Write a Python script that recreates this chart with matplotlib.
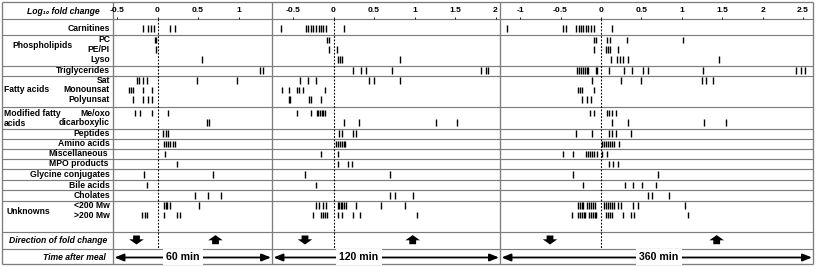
import matplotlib
matplotlib.use("Agg")
import matplotlib.pyplot as plt
from matplotlib.patches import Polygon

# ---------------- data: log10 fold change per metabolite, [60 min, 120 min, 360 min]
time_labels = ["60 min", "120 min", "360 min"]
tick_values = [[-0.5, 0, 0.5, 1],
               [-0.5, 0, 0.5, 1, 1.5, 2],
               [-1, -0.5, 0, 0.5, 1, 1.5, 2, 2.5]]
tick_labels = [["-0.5", "0", "0.5", "1"],
               ["-0.5", "0", "0.5", "1", "1.5", "2"],
               ["-1", "-0.5", "0", "0.5", "1", "1.5", "2", "2.5"]]

carnitines = [[-0.175, -0.117, -0.08, -0.043, 0.154, 0.216],
              [-0.652, -0.34, -0.309, -0.278, -0.247, -0.216, -0.185, -0.154, -0.126, -0.093, 0.13],
              [-1.167, -0.467, -0.433, -0.31, -0.278, -0.248, -0.217, -0.186, -0.155, -0.124, -0.087, 0.14]]
pc = [[-0.035, -0.02],
      [-0.075, -0.05],
      [-0.085, -0.065, 0.07, 0.11, 0.32, 1.02]]
pe_pi = [[-0.022],
         [-0.06, 0.047],
         [-0.083, 0.065, 0.09, 0.11, 0.214]]
lyso = [[0.545],
        [0.056, 0.08, 0.105, 0.82],
        [0.12, 0.194, 0.235, 0.276, 0.338, 1.464]]
triglycerides = [[1.27, 1.30],
                 [0.237, 0.336, 0.40, 0.726, 1.82, 1.88, 1.905],
                 [-0.297, -0.272, -0.248, -0.223, -0.198, -0.173, -0.155, -0.06, -0.045, 0.103, 0.288,
                  0.38, 0.523, 0.578, 1.266, 2.413, 2.475, 2.525]]
sat = [[-0.257, -0.225, -0.183, -0.133, 0.484, 0.985],
       [-0.41, -0.318, -0.216, 0.44, 0.50, 0.82],
       [-0.115, 0.248, 0.495, 1.254, 1.296, 1.39]]
monounsat = [[-0.35, -0.325, -0.30, -0.175, -0.064],
             [-0.63, -0.55, -0.45, -0.43, -0.38, -0.105],
             [-0.288, -0.26, -0.231, -0.087]]
polyunsat = [[-0.306, -0.175, -0.113, -0.064],
             [-0.55, -0.535, -0.30, -0.28, -0.16],
             [-0.231, -0.177, -0.124]]
me_oxo = [[-0.278, -0.216, -0.072, 0.133],
          [-0.45, -0.28, -0.207, -0.186, -0.165, -0.145, -0.125, -0.105],
          [-0.136, -0.087, 0.07, 0.103, 0.132, 0.182]]
dicarboxylic = [[0.607, 0.64],
                [0.13, 0.32, 1.26, 1.53],
                [0.14, 0.338, 1.275, 1.547]]
peptides = [[0.072, 0.10, 0.13],
            [0.07, 0.10, 0.245, 0.28],
            [-0.31, -0.115, 0.103, 0.14, 0.182, 0.371]]
amino_acids = [[0.08, 0.10, 0.135, 0.155, 0.19, 0.215],
               [0.03, 0.055, 0.08, 0.105, 0.13, 0.145],
               [0.016, 0.04, 0.065, 0.09, 0.115, 0.14, 0.165, 0.223]]
miscellaneous = [[0.093],
                 [-0.15, 0.06],
                 [-0.474, -0.35, -0.186, -0.16, -0.135, -0.11, -0.085, -0.053, 0.009, 0.07]]
mpo_products = [[0.237],
                [0.06, 0.18, 0.225],
                [0.103, 0.152, 0.207]]
glycine_conjugates = [[-0.167, 0.68],
                      [-0.35, 0.70],
                      [-0.343, 0.709]]
bile_acids = [[-0.126],
              [-0.21],
              [-0.219, 0.297, 0.392, 0.504, 0.677]]
cholates = [[0.463, 0.628, 0.78],
            [0.70, 0.76, 0.98],
            [0.578, 0.627, 0.845]]
unknown_lt200 = [[0.08, 0.10, 0.12, 0.15, 0.512],
                 [-0.22, -0.175, -0.13, -0.09, 0.05, 0.07, 0.09, 0.11, 0.13, 0.16, 0.28, 0.59, 0.88],
                 [-0.281, -0.26, -0.24, -0.219, -0.177, -0.145, -0.12, -0.095, -0.074, 0.037, 0.06,
                  0.085, 0.11, 0.135, 0.16, 0.207, 0.248, 0.392, 0.462, 1.04]]
unknown_gt200 = [[-0.195, -0.154, -0.13, 0.084, 0.24, 0.278],
                 [-0.25, -0.15, -0.13, -0.11, -0.085, 0.05, 0.11, 0.245, 0.33, 1.03],
                 [-0.355, -0.288, -0.265, -0.24, -0.215, -0.198, -0.149, -0.124, -0.1, -0.075, -0.066,
                  0.062, 0.085, 0.11, 0.14, 0.269, 0.368, 0.408, 1.08]]

series = [carnitines, pc, pe_pi, lyso, triglycerides, sat, monounsat, polyunsat, me_oxo,
          dicarboxylic, peptides, amino_acids, miscellaneous, mpo_products, glycine_conjugates,
          bile_acids, cholates, unknown_lt200, unknown_gt200]

# ---------------- layout (figure pixels)
W, H = 817, 267
row_y = [28.5, 40, 49.5, 59.5, 70.5, 80.5, 90, 99.5, 113, 122.5, 133.8, 144, 154, 164, 174.3,
         185, 195.3, 205.5, 215]
row_lines = [19, 34.5, 66, 75.5, 106.5, 128.5, 139, 149, 159, 169, 179.5, 190, 200.5, 232, 249]
vlines_x = [2, 113, 272, 500, 813]
panel_geom = [(113, 272, 157.5, 81.0), (272, 500, 333.5, 81.0), (500, 813, 601.0, 80.8)]
down_arrow_x = [136.5, 305, 550]
up_arrow_x = [215.5, 412.7, 716.7]
time_text_x = [183, 359, 659]
GRID = "#7d7d7d"
FONT = ["Liberation Sans", "DejaVu Sans"]

plt.rcParams["font.family"] = FONT
fig = plt.figure(figsize=(W / 100, H / 100), dpi=100)

ov = fig.add_axes([0, 0, 1, 1])
ov.set_xlim(0, W)
ov.set_ylim(H, 0)
ov.axis("off")

# grid
ov.hlines(row_lines, 2, 813, color=GRID, lw=0.85)
ov.hlines([1.5, 264], 2, 813, color=GRID, lw=0.95)
ov.vlines(vlines_x, 1.5, 264, color=GRID, lw=0.95)

# label column
fs = 6.2
def lab(t, x, y, ha="right", style="normal"):
    ov.text(x, y, t, ha=ha, va="center", fontsize=fs, fontweight="bold", fontstyle=style)

lab("Log\u2081\u2080 fold change", 100, 11, style="italic")
lab("Carnitines", 110, row_y[0])
lab("Phospholipids", 12, 45.5, ha="left")
lab("PC", 110, row_y[1]); lab("PE/PI", 110, row_y[2]); lab("Lyso", 110, row_y[3])
lab("Triglycerides", 110, row_y[4])
lab("Fatty acids", 4, row_y[6], ha="left")
lab("Sat", 110, row_y[5]); lab("Monounsat", 110, row_y[6]); lab("Polyunsat", 110, row_y[7])
lab("Modified fatty", 4, row_y[8], ha="left"); lab("acids", 4, row_y[9] + 0.5, ha="left")
lab("Me/oxo", 110, row_y[8]); lab("dicarboxylic", 110, row_y[9])
for name, i, x in [("Peptides", 10, 110), ("Amino acids", 11, 110), ("Miscellaneous", 12, 108),
                   ("MPO products", 13, 108), ("Glycine conjugates", 14, 109.5),
                   ("Bile acids", 15, 110), ("Cholates", 16, 110)]:
    lab(name, x, row_y[i])
lab("Unknowns", 7, 211, ha="left")
lab("<200 Mw", 110, row_y[17]); lab(">200 Mw", 110, row_y[18])
lab("Direction of fold change", 107, 240.5, style="italic")
lab("Time after meal", 106, 257, style="italic")

# panels
for p, (l, r, z, s) in enumerate(panel_geom):
    ax = fig.add_axes([l / W, 0, (r - l) / W, 1])
    ax.set_xlim((l - z) / s, (r - z) / s)
    ax.set_ylim(H, 0)
    ax.axis("off")
    for t, tl in zip(tick_values[p], tick_labels[p]):
        ax.text(t, 10.5, tl, ha="center", va="center", fontsize=6.1, fontweight="bold")
    ax.vlines(tick_values[p], 17.3, 19, color="black", lw=0.6)
    ax.vlines([0], 19, 249, color="black", lw=0.8, linestyles=(0, (1.6, 1.4)))
    for vals, y in zip(series, row_y):
        ax.vlines(vals[p], y - 3.4, y + 3.4, color="black", lw=1.0)

# direction arrows (block arrows)
for cx in down_arrow_x:
    ov.add_patch(Polygon([(cx - 3.4, 235.5), (cx + 3.4, 235.5), (cx + 3.4, 239.3), (cx + 7.3, 239.3),
                          (cx, 244.5), (cx - 7.3, 239.3), (cx - 3.4, 239.3)], closed=True,
                         color="black", lw=0))
for cx in up_arrow_x:
    ov.add_patch(Polygon([(cx - 3.4, 244.2), (cx + 3.4, 244.2), (cx + 3.4, 240.3), (cx + 7.3, 240.3),
                          (cx, 235.1), (cx - 7.3, 240.3), (cx - 3.4, 240.3)], closed=True,
                         color="black", lw=0))

# time arrows
for p, (l, r, z, s) in enumerate(panel_geom):
    ov.annotate("", xy=(r - 1, 257.5), xytext=(l + 1.5, 257.5),
                arrowprops=dict(arrowstyle="<|-|>,head_length=0.55,head_width=0.22",
                                color="black", lw=1.3, shrinkA=0, shrinkB=0))
    ov.text(time_text_x[p], 257.3, time_labels[p], ha="center", va="center", fontsize=7.6,
            fontweight="bold", bbox=dict(boxstyle="square,pad=0.3", fc="white", ec="none"))

fig.savefig("out.png", dpi=100)
